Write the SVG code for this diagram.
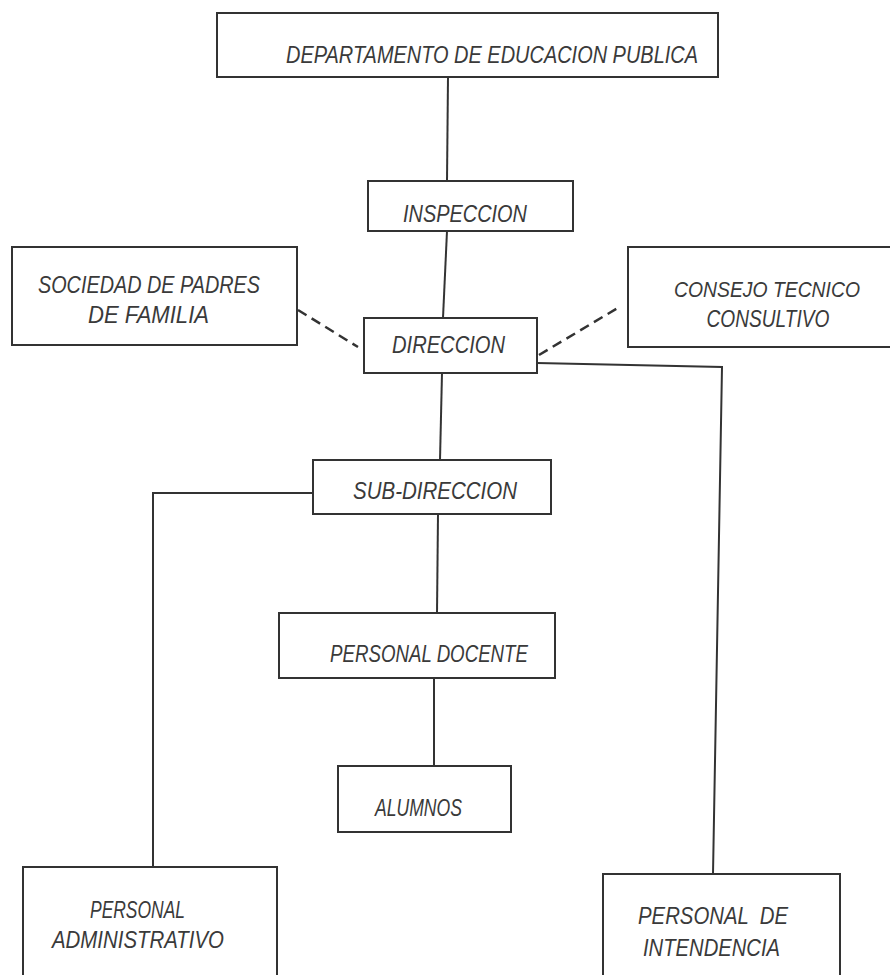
<svg xmlns="http://www.w3.org/2000/svg" width="890" height="975" viewBox="0 0 890 975">
<style>
.box{fill:#fff;stroke:#333;stroke-width:2}
.ln{fill:none;stroke:#333;stroke-width:2}
.dash{fill:none;stroke:#333;stroke-width:2.5;stroke-dasharray:10 6}
text{font-family:"Liberation Sans",Arial,sans-serif;font-style:italic;font-size:23px;fill:#3a3a3a}
</style>
<rect width="890" height="975" fill="#fff"/>
<g id="connectors">
<path class="ln" d="M448,77 L447,181"/>
<path class="ln" d="M447,231 L443,318"/>
<path class="ln" d="M442,373 L440,460"/>
<path class="ln" d="M438,514 L437,613"/>
<path class="ln" d="M434,678 L434,766"/>
<path class="ln" d="M537,363 L722,367 L713,874"/>
<path class="ln" d="M313,493 L153,493 L153,867"/>
<path class="dash" d="M298,310 L358,347"/>
<path class="dash" d="M539,355 L621,306"/>
</g>
<g id="departamento">
<rect class="box" x="217" y="13" width="501" height="64"/>
<text x="286" y="63" textLength="412" lengthAdjust="spacingAndGlyphs">DEPARTAMENTO DE EDUCACION PUBLICA</text>
</g>
<g id="inspeccion">
<rect class="box" x="368" y="181" width="205" height="50"/>
<text x="403" y="222" textLength="124" lengthAdjust="spacingAndGlyphs">INSPECCION</text>
</g>
<g id="sociedad">
<rect class="box" x="12" y="247" width="285" height="98"/>
<text x="38" y="293" textLength="222" lengthAdjust="spacingAndGlyphs">SOCIEDAD DE PADRES</text>
<text x="88" y="323" textLength="121" lengthAdjust="spacingAndGlyphs">DE FAMILIA</text>
</g>
<g id="consejo">
<path class="box" d="M890,247 L628,247 L628,347 L890,347"/>
<text x="767" y="297" text-anchor="middle" style="font-size:22px" textLength="186" lengthAdjust="spacingAndGlyphs">CONSEJO TECNICO</text>
<text x="768" y="327" text-anchor="middle" textLength="123" lengthAdjust="spacingAndGlyphs">CONSULTIVO</text>
</g>
<g id="direccion">
<rect class="box" x="364" y="318" width="173" height="55"/>
<text x="392" y="353" textLength="113" lengthAdjust="spacingAndGlyphs">DIRECCION</text>
</g>
<g id="subdireccion">
<rect class="box" x="313" y="460" width="238" height="54"/>
<text x="353" y="499" textLength="164" lengthAdjust="spacingAndGlyphs">SUB-DIRECCION</text>
</g>
<g id="docente">
<rect class="box" x="279" y="613" width="276" height="65"/>
<text x="330" y="662" textLength="198" lengthAdjust="spacingAndGlyphs">PERSONAL DOCENTE</text>
</g>
<g id="alumnos">
<rect class="box" x="338" y="766" width="173" height="66"/>
<text x="375" y="816" textLength="87" lengthAdjust="spacingAndGlyphs">ALUMNOS</text>
</g>
<g id="administrativo">
<path class="box" d="M23,975 L23,867 L277,867 L277,975"/>
<text x="90" y="918" textLength="95" lengthAdjust="spacingAndGlyphs">PERSONAL</text>
<text x="52" y="948" textLength="172" lengthAdjust="spacingAndGlyphs">ADMINISTRATIVO</text>
</g>
<g id="intendencia">
<path class="box" d="M603,975 L603,874 L840,874 L840,975"/>
<text x="638" y="924" textLength="150" lengthAdjust="spacingAndGlyphs" xml:space="preserve">PERSONAL  DE</text>
<text x="643" y="956" textLength="137" lengthAdjust="spacingAndGlyphs">INTENDENCIA</text>
</g>
</svg>
